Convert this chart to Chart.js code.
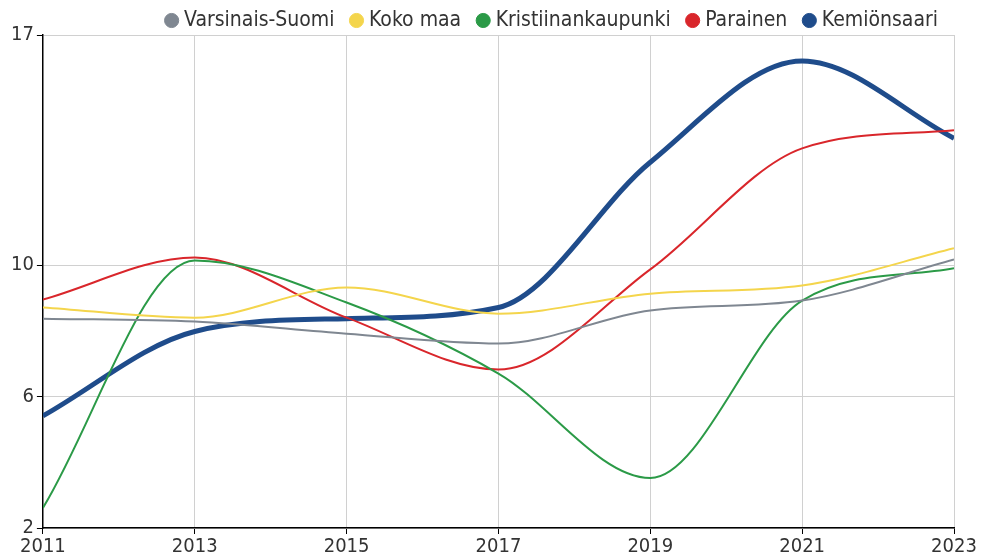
<!DOCTYPE html>
<html>
<head>
<meta charset="utf-8">
<script src="https://cdn.jsdelivr.net/npm/chart.js@4"></script>
<style>
  html, body { margin: 0; padding: 0; background: #fff; }
  #wrap { width: 982px; height: 556px; }
</style>
</head>
<body>
<div id="wrap"><canvas id="chart" width="982" height="556"></canvas></div>
<script>
// Years on the x axis
const years = [2011, 2013, 2015, 2017, 2019, 2021, 2023];

// Series values
const varsinaisSuomi = [8.37, 8.28, 7.91, 7.61, 8.62, 8.92, 10.17];
const kokoMaa = [8.71, 8.40, 9.32, 8.52, 9.13, 9.38, 10.51];
const kristiinankaupunki = [2.61, 10.14, 8.86, 6.70, 3.52, 8.92, 9.90];
const parainen = [8.95, 10.23, 8.40, 6.82, 9.87, 13.55, 14.10];
const kemionsaari = [5.41, 7.98, 8.37, 8.71, 13.13, 16.21, 13.86];

// Tick labels
const yTicks = [2, 6, 10, 17];
const xTicks = [2011, 2013, 2015, 2017, 2019, 2021, 2023];

const FONT = "'DejaVu Sans Condensed', 'DejaVu Sans', sans-serif";
const LEGEND_H = 45;

function series(label, values, color, width) {
  return {
    label: label,
    data: values.map((v, i) => ({ x: years[i], y: v })),
    borderColor: color,
    backgroundColor: color,
    borderWidth: width,
    pointRadius: 0,
    pointHoverRadius: 0,
    pointStyle: "circle",
    cubicInterpolationMode: "monotone",
    fill: false,
  };
}

const datasets = [
  series("Varsinais-Suomi", varsinaisSuomi, "#7f8791", 2),
  series("Koko maa", kokoMaa, "#f4d54c", 2),
  series("Kristiinankaupunki", kristiinankaupunki, "#2b9a47", 2),
  series("Parainen", parainen, "#d9262b", 2),
  series("Kemiönsaari", kemionsaari, "#1f4c8b", 5),
];

// keep the legend short so the plot starts right under it,
// and let it run a little further right than the plot edge
const legendTweak = {
  id: "legendTweak",
  beforeInit(chart) {
    const fit = chart.legend.fit;
    chart.legend.fit = function () {
      fit.call(this);
      this.height = LEGEND_H;
    };
  },
  beforeDraw(chart) {
    chart.legend.right = chart.width - 24;
  },
};

new Chart(document.getElementById("chart"), {
  type: "line",
  data: { datasets: datasets },
  plugins: [legendTweak],
  options: {
    responsive: false,
    animation: false,
    layout: { padding: { left: 8, right: 28, top: -10, bottom: -4 } },
    plugins: {
      tooltip: { enabled: false },
      legend: {
        position: "top",
        align: "end",
        labels: {
          usePointStyle: true,
          boxWidth: 4,
          boxHeight: 10,
          padding: 20,
          color: "#333",
          font: { family: FONT, size: 21 },
          generateLabels: (chart) =>
            Chart.defaults.plugins.legend.labels
              .generateLabels(chart)
              .map((item) => ({ ...item, lineWidth: 1 })),
        },
      },
    },
    scales: {
      x: {
        type: "linear",
        min: 2011,
        max: 2023,
        afterBuildTicks: (axis) => {
          axis.ticks = xTicks.map((v) => ({ value: v }));
        },
        ticks: {
          autoSkip: false,
          maxRotation: 0,
          padding: 1,
          color: "#333",
          font: { family: FONT, size: 20 },
          callback: (v) => String(v),
        },
        grid: { color: "#d0d0d0", lineWidth: 1, tickLength: 6, tickColor: "#000" },
        border: { color: "#000", width: 1.5 },
      },
      y: {
        type: "linear",
        min: 2,
        max: 17,
        afterBuildTicks: (axis) => {
          axis.ticks = yTicks.map((v) => ({ value: v }));
        },
        ticks: {
          autoSkip: false,
          padding: 3,
          color: "#333",
          font: { family: FONT, size: 20 },
        },
        grid: { color: "#d0d0d0", lineWidth: 1, tickLength: 6, tickColor: "#000" },
        border: { color: "#000", width: 1.5 },
      },
    },
  },
});
</script>
</body>
</html>
